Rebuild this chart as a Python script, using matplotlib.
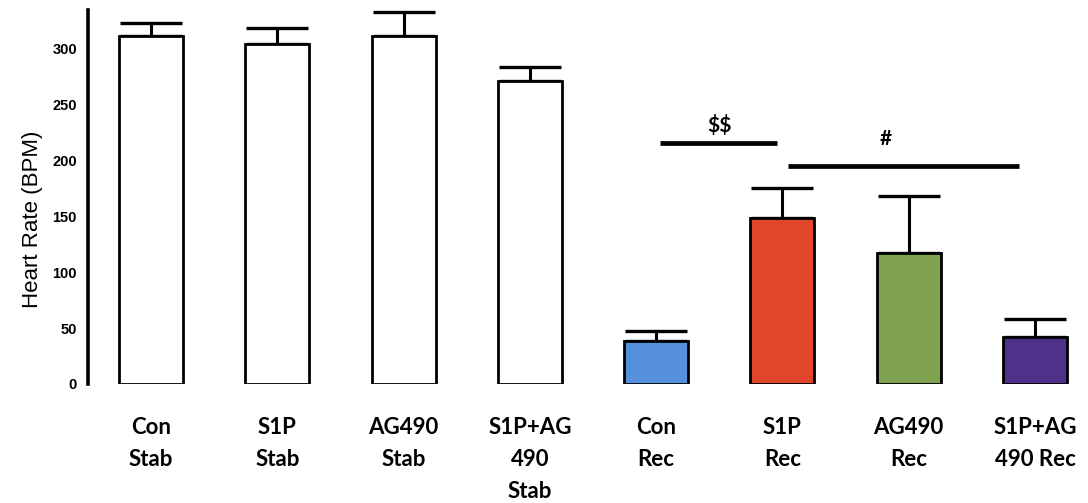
import numpy as np
import matplotlib.pyplot as plt

# Data
groups = ['Con\nStab', 'S1P\nStab', 'AG490\nStab', 'S1P+AG\n490\nStab',
          'Con\nRec', 'S1P\nRec', 'AG490\nRec', 'S1P+AG\n490 Rec']
heart_rate = [311, 304, 311, 271, 38, 148, 117, 42]
sem = [11, 14, 21, 12, 9, 27, 51, 16]
bar_colors = ['white', 'white', 'white', 'white',
              '#5590dc', '#e0462c', '#7ea250', '#4f318a']

# significance bars: (x start, x end, y, label, label x, label y)
sig_bars = [(4.03, 4.96, 215, '$$', 4.5, 231),
            (5.04, 6.87, 195, '#', 5.82, 219)]

x = np.arange(len(groups))

fig = plt.figure(figsize=(10.88, 5.03), dpi=100)
ax = fig.add_axes([0.0809, 0.2366, 0.9191, 0.7435])

ax.bar(x, heart_rate, width=0.507, color=bar_colors, edgecolor='black',
       linewidth=2.0, zorder=2)
ax.errorbar(x, heart_rate, yerr=[np.zeros(len(sem)), sem], fmt='none',
            ecolor='black', elinewidth=2.2, capsize=22, capthick=2.4, zorder=1)

for x0, x1, y, label, lx, ly in sig_bars:
    ax.plot([x0, x1], [y, y], color='black', lw=3.4, solid_capstyle='butt')
    ax.text(lx, ly, label, ha='center', va='center', parse_math=False,
            fontsize=15, fontweight='bold', family='Lato')

ax.set_xlim(-0.5, 7.42)
ax.set_ylim(0, 334)
ax.set_yticks(np.arange(0, 301, 50))
ax.tick_params(axis='y', length=0, pad=8, labelsize=10.5)
for t in ax.get_yticklabels():
    t.set_fontweight('bold')
    t.set_family('Liberation Sans')

ax.set_xticks(x)
ax.set_xticklabels(groups, fontsize=16, fontweight='bold', family='Lato',
                   linespacing=1.65, va='top')
ax.tick_params(axis='x', length=0, pad=24)

ax.set_ylabel('Heart Rate (BPM)', fontsize=16, family='Liberation Sans')
ax.yaxis.set_label_coords(-0.045, 0.44)

for s in ['top', 'right', 'bottom']:
    ax.spines[s].set_visible(False)
ax.spines['left'].set_linewidth(2.6)

fig.savefig('out.png', dpi=100)
